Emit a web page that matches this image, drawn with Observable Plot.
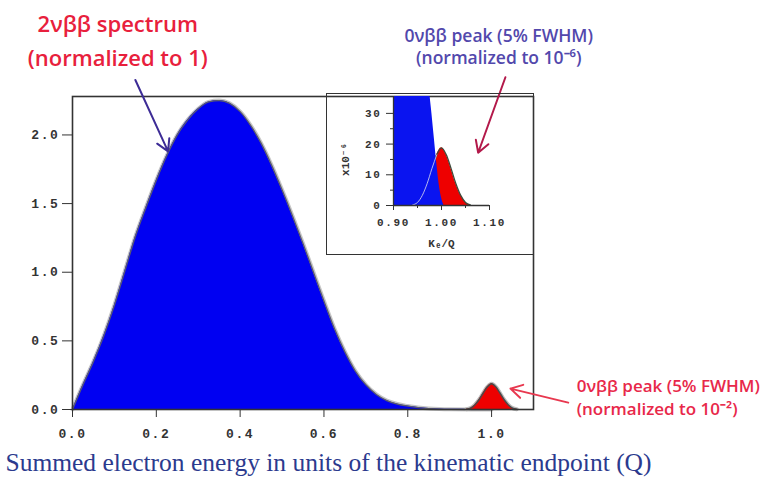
<!DOCTYPE html>
<html><head><meta charset="utf-8">
<script src="https://cdn.jsdelivr.net/npm/d3@7"></script>
<script src="https://cdn.jsdelivr.net/npm/@observablehq/plot@0.6"></script>
<style>
body{margin:0;background:#fff;}
#wrap{position:relative;width:767px;height:489px;overflow:hidden;}
#main{position:absolute;left:0;top:0;}
#inset{position:absolute;left:327px;top:94px;}
#insetbox{position:absolute;left:326px;top:93px;width:208px;height:162px;box-sizing:border-box;border:1.6px solid #333;}
g[aria-label="x-axis tick label"] text, g[aria-label="y-axis tick label"] text{letter-spacing:1.6px;}
</style></head><body>
<div id="wrap"><div id="main"></div><div id="insetbox"></div><div id="inset"></div></div>
<script>
// 2vbb summed-energy spectrum (main panel)
const specX = [0,0.025,0.05,0.075,0.1,0.125,0.15,0.175,0.2,0.225,0.25,0.275,0.3,0.325,0.35,0.375,0.4,0.425,0.45,0.475,0.5,0.525,0.55,0.575,0.6,0.625,0.65,0.675,0.7,0.725,0.75,0.775,0.8,0.825,0.85,0.875,0.9,0.95,1.0];
const specY = [0,0.18,0.35,0.54,0.76,1.01,1.26,1.47,1.67,1.85,2.00,2.11,2.19,2.24,2.25,2.23,2.17,2.07,1.94,1.78,1.60,1.41,1.21,1.00,0.79,0.59,0.42,0.28,0.18,0.11,0.065,0.04,0.025,0.014,0.007,0.003,0.001,0,0];
// 0vbb peak
const peakX = [0.94,0.95,0.96,0.97,0.98,0.99,1.0,1.01,1.02,1.03,1.04,1.05,1.06];
const peakMainY = [0.002,0.01,0.033,0.071,0.12,0.165,0.188,0.165,0.12,0.071,0.033,0.01,0.002];
const peakInsetY = [0.2,1.0,3.3,7.1,12.0,16.5,18.8,16.5,12.0,7.1,3.3,1.0,0.2];
// 2vbb tail in the inset (units of 1e-6)
const insetSpecX = [0.9,0.95,0.97,0.975,0.98,0.985,0.99,0.995,1.0,1.005];
const insetSpecY = [300,120,52,38,30,22,14,7,2.5,0];
// ticks
const mainXTicks = [0,0.2,0.4,0.6,0.8,1.0];
const mainYTicks = [0,0.5,1.0,1.5,2.0];
const insetXTicks = [0.9,1.0,1.1];
const insetXMinor = [0.95,1.05];
const insetYTicks = [0,10,20,30];
const insetYMinor = [5,15,25];
// annotations
const noteLeft = ["2νββ spectrum","(normalized to 1)"];
const noteLeftX = [0.108,0.108];
const noteLeftY = [2.80,2.555];
const noteTop = ["0νββ peak (5% FWHM)","(normalized to 10⁻⁶)"];
const noteTopX = [1.017,1.017];
const noteTopY = [2.72,2.56];
const noteRight = ["0νββ peak (5% FWHM)","(normalized to 10⁻²)"];
const noteRightX = [1.203,1.203];
const noteRightY = [0.165,-0.002];
const caption = ["Summed electron energy in units of the kinematic endpoint (Q)"];
const captionX = [-0.160];
const captionY = [-0.385];
const arrows = [
  {x1:0.150,y1:2.40,x2:0.228,y2:1.88,c:"#3d2c96"},
  {x1:1.033,y1:2.42,x2:0.968,y2:1.87,c:"#b3194a"},
  {x1:1.183,y1:0.05,x2:1.045,y2:0.152,c:"#e8384f"}
];

const spec = specX.map((x,i)=>({x,y:specY[i]}));
const peakMain = peakX.map((x,i)=>({x,y:peakMainY[i]}));
const peakInset = peakX.map((x,i)=>({x,y:peakInsetY[i]}));
const insetSpec = insetSpecX.map((x,i)=>({x,y:insetSpecY[i]}));
const mk = (t,xs,ys)=>t.map((s,i)=>({t:s,x:xs[i],y:ys[i]}));

const commonText = {x:"x",y:"y",text:"t",clip:false,lineAnchor:"middle"};

const main = Plot.plot({
  width:767,height:489,marginLeft:72,marginRight:234,marginTop:96,marginBottom:80,
  x:{domain:[0,1.1]}, y:{domain:[0,2.28]},
  style:{fontFamily:"'Liberation Mono', monospace",fontSize:"13px",background:"transparent",overflow:"visible",color:"#333"},
  marks:[
    Plot.lineY(spec,{x:"x",y:"y",stroke:"#c6c6c6",strokeWidth:4,curve:"monotone-x"}),
    Plot.areaY(spec,{x:"x",y:"y",fill:"#0000f2",curve:"monotone-x"}),
    Plot.lineY(spec,{x:"x",y:"y",stroke:"#5c5c6e",strokeWidth:1.3,curve:"monotone-x"}),
    Plot.lineY(peakMain,{x:"x",y:"y",stroke:"#bbb",strokeWidth:4,curve:"monotone-x"}),
    Plot.areaY(peakMain,{x:"x",y:"y",fill:"#ee0000",curve:"monotone-x"}),
    Plot.lineY(peakMain,{x:"x",y:"y",stroke:"#4a4a4a",strokeWidth:1.5,curve:"monotone-x"}),
    Plot.frame({stroke:"#333",strokeWidth:1.6}),
    Plot.axisX({ticks:mainXTicks,tickFormat:d=>d.toFixed(1),tickSize:8,tickPadding:11,label:null,fontWeight:"bold",fill:"#333",stroke:"#333"}),
    Plot.axisY({ticks:mainYTicks,tickFormat:d=>d.toFixed(1),tickSize:10,tickPadding:3,label:null,fontWeight:"bold",fill:"#333",stroke:"#333"}),
    Plot.text(mk(noteLeft,noteLeftX,noteLeftY),{...commonText,fill:"#e8203c",fontSize:22,fontFamily:"'Open Sans'",fontWeight:600}),
    Plot.text(mk(noteTop,noteTopX,noteTopY),{...commonText,fill:"#5248ac",fontSize:17.5,fontFamily:"'Open Sans'",fontWeight:600}),
    Plot.text(mk(noteRight,noteRightX,noteRightY),{...commonText,textAnchor:"start",fill:"#e8284a",fontSize:17,fontFamily:"'Open Sans'",fontWeight:600}),
    Plot.text(mk(caption,captionX,captionY),{...commonText,textAnchor:"start",fill:"#2b3a8e",fontSize:25.5,fontFamily:"'Liberation Serif'"}),
    Plot.arrow(arrows,{x1:"x1",y1:"y1",x2:"x2",y2:"y2",stroke:"c",strokeWidth:2,headLength:10,clip:false})
  ]
});
document.getElementById("main").append(main);

const inset = Plot.plot({
  width:206,height:160,marginLeft:66,marginRight:44,marginTop:2,marginBottom:49,
  x:{domain:[0.9,1.1]}, y:{domain:[0,35.5]},
  style:{fontFamily:"'Liberation Mono', monospace",fontSize:"11px",background:"transparent",overflow:"visible",color:"#333"},
  marks:[
    Plot.areaY(peakInset,{x:"x",y:"y",fill:"#ee0000",curve:"monotone-x",clip:true}),
    Plot.lineY(peakInset,{x:"x",y:"y",stroke:"#3f4a3a",strokeWidth:1.3,curve:"monotone-x",clip:true}),
    Plot.areaY(insetSpec,{x:"x",y:"y",fill:"#0a14f0",curve:"monotone-x",clip:true}),
    Plot.lineY(peakInset.filter(d=>d.x<=0.99),{x:"x",y:"y",stroke:"#dde",strokeWidth:1,strokeOpacity:0.8,curve:"monotone-x",clip:true}),
    Plot.ruleY([0],{stroke:"#333",strokeWidth:1.3}),
    Plot.ruleX([0.9],{stroke:"#333",strokeWidth:1.3}),
    Plot.axisX({ticks:insetXTicks,tickFormat:d=>d.toFixed(2),tickSize:5,tickPadding:8,label:null,fontWeight:"bold",fill:"#333",stroke:"#333"}),
    Plot.axisX({ticks:insetXMinor,tickFormat:()=>"",tickSize:3,label:null,stroke:"#333"}),
    Plot.axisY({ticks:insetYTicks,tickFormat:d=>String(d),tickSize:7,tickPadding:5,label:null,fontWeight:"bold",fill:"#333",stroke:"#333"}),
    Plot.axisY({ticks:insetYMinor,tickFormat:()=>"",tickSize:3,label:null,stroke:"#333"}),
    Plot.text(["Kₑ/Q"],{x:[1.0],y:[-12.5],text:d=>d,clip:false,fontWeight:"bold",fontSize:11,fill:"#333",lineAnchor:"middle"}),
    Plot.text(["x10⁻⁶"],{x:[0.8],y:[15],text:d=>d,clip:false,rotate:-90,fontWeight:"bold",fontSize:11,fill:"#333",lineAnchor:"middle"})
  ]
});
document.getElementById("inset").append(inset);
</script></body></html>
